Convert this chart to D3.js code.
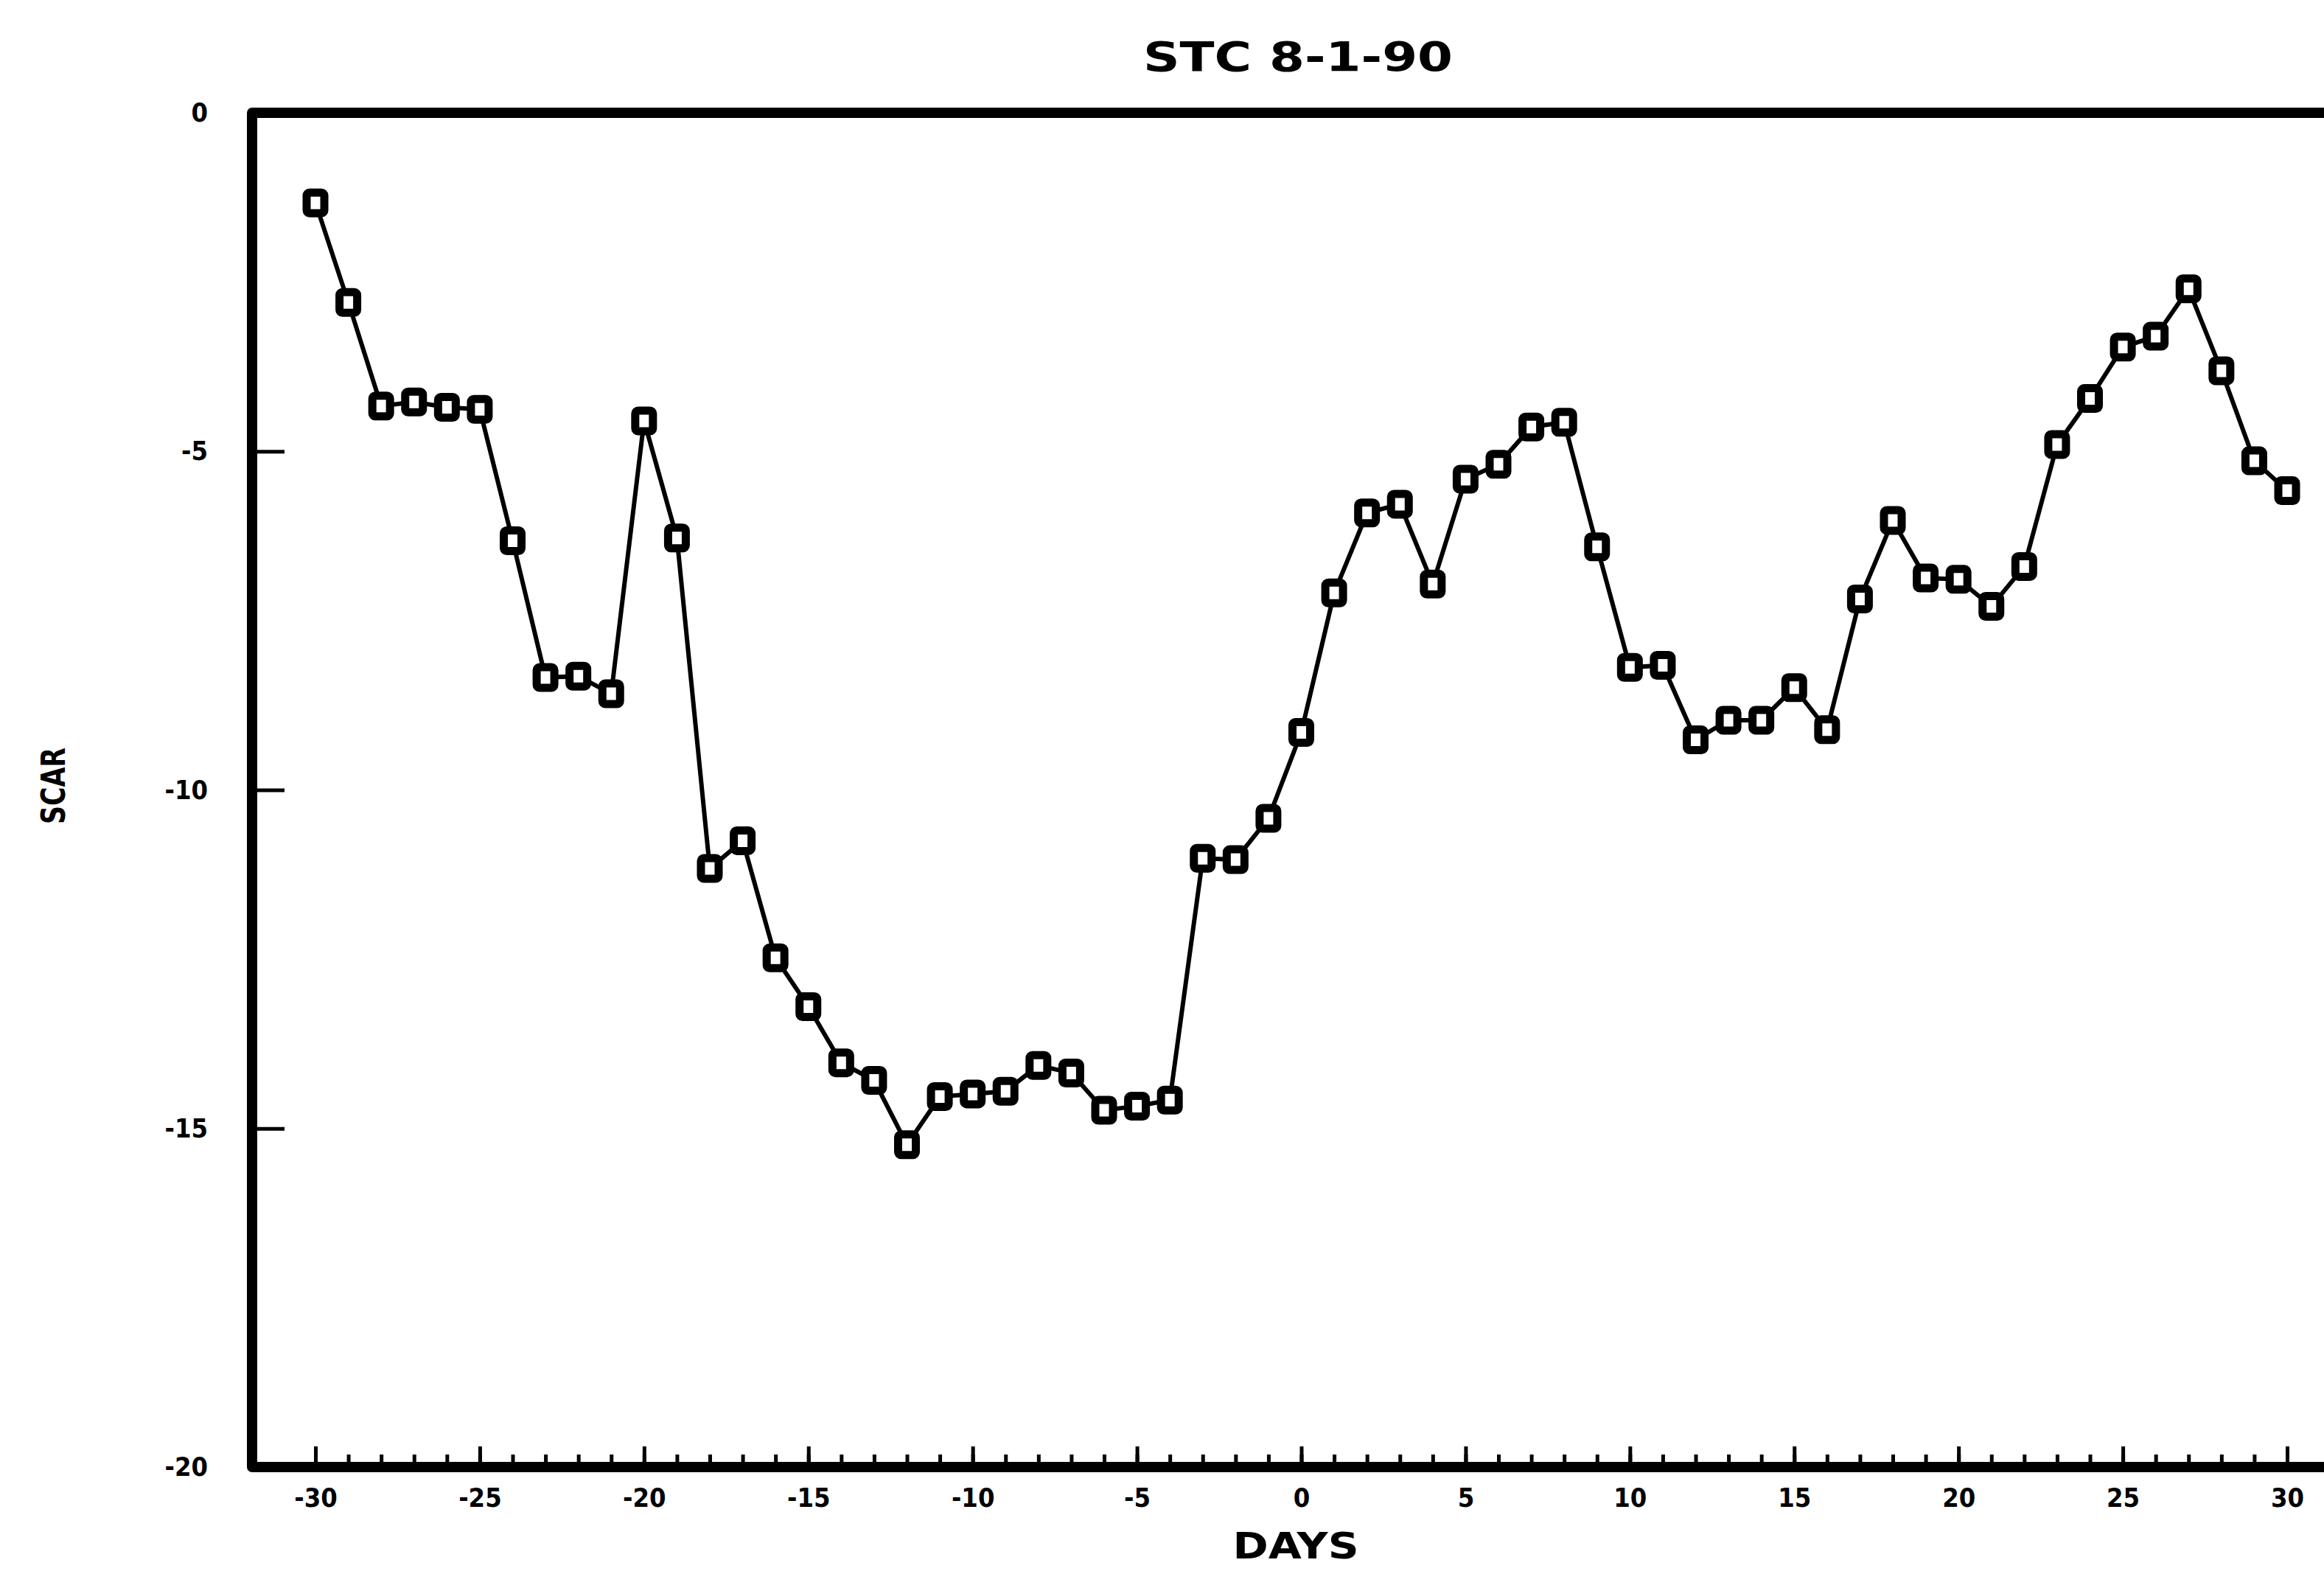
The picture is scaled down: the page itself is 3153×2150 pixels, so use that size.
<!DOCTYPE html>
<html lang="en">
<head>
<meta charset="utf-8">
<title>STC 8-1-90</title>
<style type="text/css">
  body { margin: 0; padding: 0; background: #fff; }
  svg { display: block; }
  text { font-family: "DejaVu Sans Condensed", "DejaVu Sans", sans-serif; font-weight: bold; fill: #000; }
</style>
<script src="https://d3js.org/d3.v7.min.js"></script>
</head>
<body>
<div id="root"></div>
<script>
  // SCAR per event day
  var days = d3.range(-30, 31);
  var scar = [
    -1.33, -2.80, -4.33, -4.27, -4.35, -4.38, -6.32, -8.34, -8.32, -8.58,
    -4.55, -6.28, -11.16, -10.75, -12.48, -13.20, -14.03, -14.29, -15.24, -14.53,
    -14.49, -14.45, -14.07, -14.18, -14.73, -14.67, -14.58, -11.01, -11.03, -10.42,
    -9.15, -7.09, -5.91, -5.78, -6.96, -5.41, -5.19, -4.64, -4.57, -6.41,
    -8.19, -8.16, -9.26, -8.97, -8.97, -8.49, -9.11, -7.18, -6.02, -6.87,
    -6.89, -7.29, -6.70, -4.90, -4.22, -3.46, -3.30, -2.60, -3.81, -5.14,
    -5.58
  ];
  var xTicks = [-30, -25, -20, -15, -10, -5, 0, 5, 10, 15, 20, 25, 30];
  var yTicks = [0, -5, -10, -15, -20];

  var W = 3153, H = 2150;
  var plotLeft = 342, plotTop = 153, plotBottom = 1990;

  var svg = d3.select("#root").append("svg")
      .attr("width", W)
      .attr("height", H);

  var x = d3.scaleLinear().domain([-30, 30]).range([428, 3103]);
  var y = d3.scaleLinear().domain([-20, 0]).range([plotBottom, plotTop]);

  // title
  svg.append("text")
      .attr("x", 1761)
      .attr("y", 96)
      .attr("text-anchor", "middle")
      .attr("textLength", 420)
      .attr("lengthAdjust", "spacingAndGlyphs")
      .style("font-size", "56px")
      .text("STC 8-1-90");

  // minor day ticks
  svg.append("g")
      .attr("transform", "translate(0," + plotBottom + ")")
      .call(d3.axisBottom(x).tickValues(days).tickSize(-17).tickFormat(""))
      .call(function(g) {
        g.select(".domain").remove();
        g.selectAll("line").attr("stroke", "#000").attr("stroke-width", 5);
      });

  // major x ticks and labels
  svg.append("g")
      .attr("transform", "translate(0," + plotBottom + ")")
      .call(d3.axisBottom(x).tickValues(xTicks).tickSize(-28).tickPadding(28)
        .tickFormat(function(d) { return d; }))
      .call(function(g) {
        g.select(".domain").remove();
        g.selectAll("line").attr("stroke", "#000").attr("stroke-width", 5);
        g.selectAll("text").style("font-size", "36px").attr("fill", "#000");
      });

  // y ticks and labels
  svg.append("g")
      .attr("transform", "translate(" + plotLeft + ",0)")
      .call(d3.axisLeft(y).tickValues(yTicks).tickSize(-44).tickPadding(60)
        .tickFormat(function(d) { return d; }))
      .call(function(g) {
        g.select(".domain").remove();
        g.selectAll("line").attr("stroke", "#000").attr("stroke-width", 5);
        g.selectAll("text").style("font-size", "36px").attr("fill", "#000");
      });

  // frame (open on the right, runs off the page)
  svg.append("path")
      .attr("d", "M" + (W + 20) + "," + plotTop + "H" + plotLeft + "V" + plotBottom + "H" + (W + 20))
      .attr("fill", "none")
      .attr("stroke", "#000")
      .attr("stroke-width", 14)
      .attr("stroke-linejoin", "round");

  // series line
  var line = d3.line()
      .x(function(d, i) { return x(days[i]); })
      .y(function(d) { return y(d); });

  svg.append("path")
      .datum(scar)
      .attr("d", line)
      .attr("fill", "none")
      .attr("stroke", "#000")
      .attr("stroke-width", 6);

  // square markers
  svg.append("g")
    .selectAll("rect")
    .data(scar)
    .enter().append("rect")
      .attr("x", function(d, i) { return x(days[i]) - 12; })
      .attr("y", function(d) { return y(d) - 14; })
      .attr("width", 24)
      .attr("height", 28)
      .attr("rx", 4)
      .attr("fill", "#fff")
      .attr("stroke", "#000")
      .attr("stroke-width", 11);

  // axis titles
  svg.append("text")
      .attr("x", 1758)
      .attr("y", 2114)
      .attr("text-anchor", "middle")
      .attr("textLength", 171)
      .attr("lengthAdjust", "spacingAndGlyphs")
      .style("font-size", "50px")
      .text("DAYS");

  svg.append("text")
      .attr("transform", "translate(88,1066) rotate(-90)")
      .attr("text-anchor", "middle")
      .attr("textLength", 104)
      .attr("lengthAdjust", "spacingAndGlyphs")
      .style("font-size", "44px")
      .text("SCAR");
</script>
</body>
</html>
